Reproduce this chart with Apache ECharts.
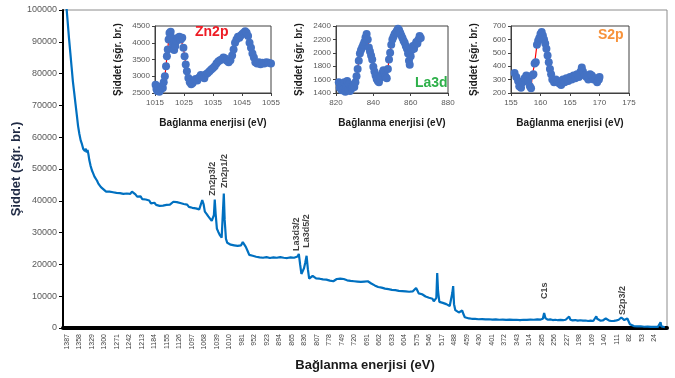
<!DOCTYPE html>
<html>
<head>
<meta charset="utf-8">
<title>XPS</title>
<script src="https://cdn.jsdelivr.net/npm/echarts@6/dist/echarts.min.js"></script>
<style>
  html, body { margin: 0; padding: 0; background: #fff; }
  #xps { width: 675px; height: 378px; }
</style>
</head>
<body>
<div id="xps"></div>
<script>
// genel tarama spektrumu [enerji (eV), siddet]
var surveyData = [
  [1392, 112000], [1388, 101000], [1385, 96000], [1382, 91000], [1379, 86500], [1376, 82000], [1373, 77500],
  [1370, 74000], [1367, 70500], [1364, 67000], [1361, 63500], [1358, 61000], [1355, 59000], [1352, 57800],
  [1349, 56300], [1347, 56900], [1345, 55600], [1343, 56400], [1341, 55200], [1339, 56000], [1337, 54600],
  [1335, 52800], [1332, 51000], [1329, 49600], [1326, 48600], [1323, 47600], [1320, 47000], [1317, 46300],
  [1314, 45400], [1311, 45000], [1308, 44300], [1305, 44100], [1302, 43600], [1299, 43200], [1296, 42900],
  [1292, 42600], [1288, 42900], [1284, 42300], [1280, 42700], [1276, 42100], [1272, 42500], [1268, 42000],
  [1264, 42400], [1260, 41900], [1256, 42200], [1252, 41800], [1248, 42300], [1244, 42800], [1240, 42200],
  [1236, 42900], [1232, 42500], [1228, 42000], [1224, 41300], [1220, 41000], [1216, 41400], [1212, 40500],
  [1208, 40100], [1204, 40400], [1200, 39800], [1196, 40100], [1192, 39200], [1188, 38800], [1184, 39400],
  [1180, 38700], [1176, 39000], [1172, 38400], [1168, 38900], [1164, 38500], [1160, 39100], [1156, 38700],
  [1152, 39300], [1148, 38800], [1144, 39400], [1140, 39700], [1136, 39100], [1132, 39600], [1128, 39000],
  [1124, 39300], [1120, 38700], [1116, 39000], [1112, 38400], [1108, 38800], [1104, 38100], [1100, 38400],
  [1096, 37800], [1092, 38200], [1088, 37600], [1084, 37900], [1080, 37300], [1076, 37800], [1073, 40200],
  [1070, 39000], [1067, 36600], [1063, 35900], [1059, 35100], [1055, 34600], [1051, 33700], [1048, 33100],
  [1046, 35500], [1044, 40400], [1042, 36000], [1039, 31200], [1036, 30300], [1032, 29200], [1028, 28400],
  [1025, 28600], [1023, 42300], [1021, 34000], [1018, 28000], [1015, 26800], [1011, 26600], [1007, 26200],
  [1003, 26600], [999, 26000], [995, 26400], [991, 25800], [987, 26200], [983, 26000], [979, 27000],
  [976, 26500], [972, 25500], [968, 24300], [964, 23000], [960, 22500], [956, 22700], [952, 22100],
  [948, 22400], [944, 21900], [940, 22200], [936, 21700], [932, 22100], [928, 21800], [924, 22300],
  [920, 21700], [916, 22000], [912, 21600], [908, 22200], [904, 21800], [900, 22100], [896, 21700],
  [892, 22300], [888, 21800], [884, 22100], [880, 21600], [876, 22000], [872, 21700], [868, 22200],
  [864, 21800], [860, 22100], [856, 21900], [852, 22500], [849, 23300], [846, 20000], [843, 17000],
  [840, 17300], [837, 18800], [834, 20600], [831, 22700], [828, 18500], [825, 15500], [821, 15900],
  [817, 16400], [813, 15900], [809, 15600], [805, 15900], [801, 15500], [797, 15800], [793, 15300],
  [789, 15600], [785, 15200], [781, 15400], [777, 14900], [773, 15200], [769, 14700], [765, 15100],
  [761, 15400], [757, 15000], [753, 15500], [749, 15100], [745, 15400], [741, 14800], [737, 15000],
  [733, 14500], [729, 14800], [725, 14400], [721, 14700], [717, 14300], [713, 14600], [709, 14200],
  [705, 14500], [701, 14100], [697, 14600], [693, 14300], [689, 14700], [685, 14300], [681, 14000],
  [677, 13700], [673, 13400], [669, 13100], [665, 12900], [661, 13000], [657, 12700], [653, 12800],
  [649, 12400], [645, 12600], [641, 12200], [637, 12400], [633, 12000], [629, 12200], [625, 11900],
  [621, 12000], [617, 11700], [613, 11900], [609, 11600], [605, 11800], [601, 11500], [597, 11700],
  [593, 11400], [589, 11600], [585, 11500], [581, 11800], [577, 12600], [574, 11800], [571, 10900],
  [567, 10400], [563, 10600], [559, 10100], [555, 9900], [551, 9700], [547, 9500], [543, 9600],
  [539, 9200], [536, 8400], [533, 8000], [530, 9500], [528, 17300], [526, 11500], [523, 8200],
  [519, 8000], [515, 7900], [511, 7600], [507, 7500], [503, 7100], [499, 6900], [496, 7500],
  [493, 11000], [491, 13200], [489, 7500], [486, 5600], [482, 5200], [478, 4900], [474, 5000],
  [470, 5500], [467, 4300], [464, 3400], [460, 3100], [454, 3000], [448, 2900], [440, 2850],
  [432, 2750], [424, 2800], [416, 2700], [408, 2750], [400, 2650], [392, 2700], [384, 2600],
  [376, 2650], [368, 2550], [360, 2650], [352, 2550], [344, 2600], [336, 2500], [328, 2600],
  [320, 2550], [312, 2650], [304, 2600], [296, 2700], [288, 2650], [283, 2900], [280, 4700],
  [277, 3100], [272, 2600], [266, 2700], [260, 2500], [254, 2600], [248, 2450], [242, 2550],
  [236, 2450], [230, 2600], [226, 2700], [222, 3600], [219, 2600], [214, 2400], [208, 2500],
  [202, 2300], [196, 2450], [190, 2300], [184, 2350], [178, 2200], [172, 2300], [166, 2200],
  [162, 2500], [159, 3700], [157, 2900], [154, 2400], [149, 2300], [144, 2350], [140, 2600],
  [137, 3000], [134, 2500], [129, 2300], [124, 2200], [118, 2250], [112, 2400], [107, 2600],
  [104, 2900], [101, 3300], [98, 2700], [94, 2500], [90, 2600], [87, 3000], [84, 2400],
  [81, 1200], [78, 700], [72, 600], [64, 500], [56, 550], [48, 400], [40, 450], [32, 350],
  [24, 400], [16, 350], [12, 600], [10, 1800], [8, 500], [4, 300], [0, 250]
];

// pik etiketleri
var peakNames = ['Zn2p3/2', 'Zn2p1/2', 'La3d3/2', 'La3d5/2', 'C1s', 'S2p3/2'];
var peakEV = [1049, 1021, 854, 831, 279, 98];
var peakLabelY = [41600, 44000, 24200, 25200, 9100, 4100];

// Zn2p yuksek cozunurluk
var zn2pData = [
  [1015.2, 2750], [1015.5, 2620], [1015.8, 2560], [1016.2, 2680], [1016.5, 2540], [1016.9, 2600],
  [1017.3, 2700], [1017.7, 2650], [1018.0, 2820], [1018.4, 3000], [1018.8, 3300], [1019.1, 3600],
  [1019.4, 3800], [1019.7, 4100], [1020.0, 4290], [1020.4, 4330], [1020.8, 4150], [1021.2, 3950],
  [1021.6, 3780], [1022.0, 3900], [1022.4, 4050], [1022.9, 4150], [1023.4, 4180], [1023.9, 4100],
  [1024.4, 4150], [1024.8, 3850], [1025.2, 3600], [1025.6, 3350], [1026.0, 3150], [1026.5, 2950],
  [1027.0, 2820], [1027.5, 2760], [1028.0, 2800], [1028.5, 2880], [1029.0, 2920], [1029.6, 2870],
  [1030.2, 2960], [1030.8, 3040], [1031.4, 2980], [1032.0, 2940], [1032.6, 3060], [1033.2, 3100],
  [1033.8, 3150], [1034.4, 3200], [1035.0, 3250], [1035.6, 3300], [1036.2, 3380], [1036.8, 3440],
  [1037.4, 3480], [1038.0, 3500], [1038.6, 3560], [1039.2, 3530], [1039.8, 3460], [1040.4, 3420],
  [1041.0, 3480], [1041.6, 3620], [1042.1, 3800], [1042.6, 4000], [1043.1, 4100], [1043.6, 4180],
  [1044.1, 4150], [1044.6, 4220], [1045.1, 4260], [1045.6, 4300], [1046.1, 4340], [1046.6, 4300],
  [1047.1, 4200], [1047.6, 4000], [1048.1, 3850], [1048.6, 3680], [1049.1, 3560], [1049.6, 3420],
  [1050.2, 3380], [1050.8, 3420], [1051.4, 3360], [1052.0, 3400], [1052.7, 3380], [1053.4, 3420],
  [1054.2, 3400], [1055.0, 3380]
];

// La3d yuksek cozunurluk
var la3dData = [
  [821.5, 1560], [822.0, 1480], [822.5, 1530], [823.0, 1440], [823.5, 1520], [824.0, 1460],
  [824.5, 1560], [825.0, 1420], [825.5, 1500], [826.0, 1580], [826.5, 1450], [827.0, 1530],
  [827.5, 1430], [828.0, 1490], [828.6, 1470], [829.2, 1510], [829.8, 1490], [830.4, 1560],
  [831.0, 1650], [831.6, 1760], [832.2, 1880], [832.8, 1990], [833.4, 2040], [834.0, 2080],
  [834.6, 2120], [835.2, 2160], [835.8, 2230], [836.4, 2280], [837.0, 2200], [837.6, 2080],
  [838.2, 2020], [838.8, 1960], [839.4, 1900], [840.0, 1790], [840.6, 1720], [841.2, 1660],
  [841.8, 1610], [842.4, 1580], [843.0, 1560], [843.6, 1620], [844.2, 1660], [844.8, 1700],
  [845.4, 1740], [846.0, 1700], [846.6, 1640], [847.2, 1620], [847.8, 1760], [848.4, 1900],
  [849.0, 2000], [849.6, 2120], [850.2, 2200], [850.8, 2240], [851.4, 2280], [852.0, 2300],
  [852.6, 2330], [853.2, 2360], [853.8, 2340], [854.4, 2300], [855.0, 2260], [855.6, 2220],
  [856.2, 2180], [856.8, 2150], [857.4, 2100], [858.0, 2060], [858.6, 1990], [859.1, 1880],
  [859.5, 1820], [860.0, 1950], [860.6, 2040], [861.2, 2100], [861.8, 2060], [862.4, 2120],
  [863.0, 2160], [863.6, 2140], [864.2, 2200], [864.8, 2250], [865.4, 2220]
];

// S2p yuksek cozunurluk
var s2pData = [
  [155.6, 350], [155.9, 320], [156.2, 290], [156.4, 250], [156.7, 240], [157.0, 280], [157.3, 310],
  [157.6, 330], [157.9, 290], [158.2, 250], [158.4, 235], [158.6, 330], [158.8, 340], [159.0, 420],
  [159.2, 430], [159.4, 560], [159.6, 590], [159.8, 610], [160.0, 640], [160.2, 655], [160.4, 630],
  [160.6, 600], [160.8, 570], [161.0, 530], [161.2, 480], [161.4, 430], [161.6, 380], [161.8, 340],
  [162.0, 300], [162.3, 280], [162.6, 300], [162.9, 290], [163.2, 270], [163.5, 260], [163.8, 300],
  [164.1, 280], [164.4, 310], [164.7, 290], [165.0, 320], [165.3, 300], [165.6, 330], [165.9, 310],
  [166.2, 340], [166.5, 320], [166.8, 360], [167.0, 390], [167.2, 360], [167.5, 330], [167.8, 320],
  [168.1, 300], [168.4, 340], [168.7, 330], [169.0, 300], [169.3, 310], [169.6, 280], [169.9, 300],
  [170.0, 320]
];

var FONT = 'Liberation Sans';
var xTitle = 'Bağlanma enerjisi (eV)';
var yTitle = 'Şiddet (sğr. br.)';

// binlik ayirici olmadan
function plain(v) {
    return String(v);
}

// kucuk grafiklerin ortak eksen ayarlari
function insetX(idx, min, max, step) {
    return {
        type: 'value', gridIndex: idx, min: min, max: max, interval: step,
        axisLine: { onZero: false, lineStyle: { color: '#404040', width: 1 } },
        axisTick: { show: true, length: 3, lineStyle: { color: '#404040' } },
        axisLabel: { fontSize: 8, color: '#595959', margin: 6, formatter: plain },
        splitLine: { show: false },
        name: xTitle, nameLocation: 'middle', nameGap: 25, nameMoveOverlap: false,
        nameTextStyle: { fontSize: 10, fontWeight: 'bold', color: '#1a1a1a' }
    };
}
function insetY(idx, min, max, step) {
    return {
        type: 'value', gridIndex: idx, min: min, max: max, interval: step,
        axisLine: { show: true, onZero: false, lineStyle: { color: '#404040', width: 1 } },
        axisTick: { show: true, length: 3, lineStyle: { color: '#404040' } },
        axisLabel: { fontSize: 8, color: '#595959', margin: 5, formatter: plain },
        splitLine: { show: false },
        name: yTitle, nameLocation: 'middle', nameGap: 32, nameRotate: 90, nameMoveOverlap: false,
        nameTextStyle: { fontSize: 10, fontWeight: 'bold', color: '#1a1a1a' }
    };
}
function insetSeries(idx, data) {
    return {
        type: 'line', xAxisIndex: idx, yAxisIndex: idx, data: data,
        symbol: 'circle', symbolSize: 8,
        itemStyle: { color: '#4472C4' },
        lineStyle: { color: '#ff0000', width: 1.2 },
        z: 5
    };
}

var peakData = peakNames.map(function (n, i) {
    return { name: n, value: [peakEV[i], peakLabelY[i]] };
});

var chart = echarts.init(document.getElementById('xps'));
var option = {
    animation: false,
    textStyle: { fontFamily: FONT },
    title: [
        { text: 'Zn2p', left: 195, top: 25, padding: 0, textStyle: { color: '#ee1c25', fontSize: 14, fontWeight: 'bold', fontFamily: FONT } },
        { text: 'La3d', left: 415, top: 76, padding: 0, textStyle: { color: '#2eb04a', fontSize: 14, fontWeight: 'bold', fontFamily: FONT } },
        { text: 'S2p', left: 598, top: 28, padding: 0, textStyle: { color: '#f7923a', fontSize: 14, fontWeight: 'bold', fontFamily: FONT } }
    ],
    grid: [
        { left: 63, right: 8, top: 10, bottom: 50, show: true, borderColor: '#8c8c8c', borderWidth: 1 },
        { left: 155, width: 116, top: 26, height: 67, show: true, borderColor: '#404040', borderWidth: 1 },
        { left: 336, width: 112, top: 26, height: 67, show: true, borderColor: '#404040', borderWidth: 1 },
        { left: 511, width: 118, top: 26, height: 67, show: true, borderColor: '#404040', borderWidth: 1 }
    ],
    xAxis: [
        {
            type: 'value', gridIndex: 0, inverse: true, min: -5, max: 1396, interval: 29,
            axisLine: { onZero: false, lineStyle: { color: '#000', width: 4 } },
            axisTick: { show: false },
            splitLine: { show: false },
            axisLabel: { rotate: 90, fontSize: 7, color: '#404040', margin: 6, showMinLabel: false, showMaxLabel: false, formatter: plain },
            name: xTitle, nameLocation: 'middle', nameGap: 31, nameMoveOverlap: false,
            nameTextStyle: { fontSize: 13, fontWeight: 'bold', color: '#1a1a1a' }
        },
        insetX(1, 1015, 1055, 10),
        insetX(2, 820, 880, 20),
        insetX(3, 155, 175, 5)
    ],
    yAxis: [
        {
            type: 'value', gridIndex: 0, min: 0, max: 100000, interval: 10000,
            axisLine: { show: true, onZero: false, lineStyle: { color: '#000', width: 2 } },
            axisTick: { show: true, length: 4, lineStyle: { color: '#000' } },
            splitLine: { show: false },
            axisLabel: { fontSize: 9, color: '#595959', margin: 6, formatter: plain },
            name: yTitle, nameLocation: 'middle', nameGap: 40, nameRotate: 90, nameMoveOverlap: false,
            nameTextStyle: { fontSize: 13, fontWeight: 'bold', color: '#1f2a44' }
        },
        insetY(1, 2500, 4500, 500),
        insetY(2, 1400, 2400, 200),
        insetY(3, 200, 700, 100)
    ],
    series: [
        {
            type: 'line', xAxisIndex: 0, yAxisIndex: 0, data: surveyData,
            symbol: 'none', clip: true,
            lineStyle: { color: '#0070C0', width: 2.2 }
        },
        {
            // pik isimleri
            type: 'scatter', xAxisIndex: 0, yAxisIndex: 0, data: peakData,
            symbolSize: 1, itemStyle: { color: 'rgba(0,0,0,0)' },
            label: {
                show: true, position: 'inside', rotate: 90, align: 'left', verticalAlign: 'middle',
                formatter: '{b}', fontSize: 9, fontWeight: 'bold', color: '#111', fontFamily: FONT
            }
        },
        insetSeries(1, zn2pData),
        insetSeries(2, la3dData),
        insetSeries(3, s2pData)
    ]
};
chart.setOption(option);
</script>
</body>
</html>
